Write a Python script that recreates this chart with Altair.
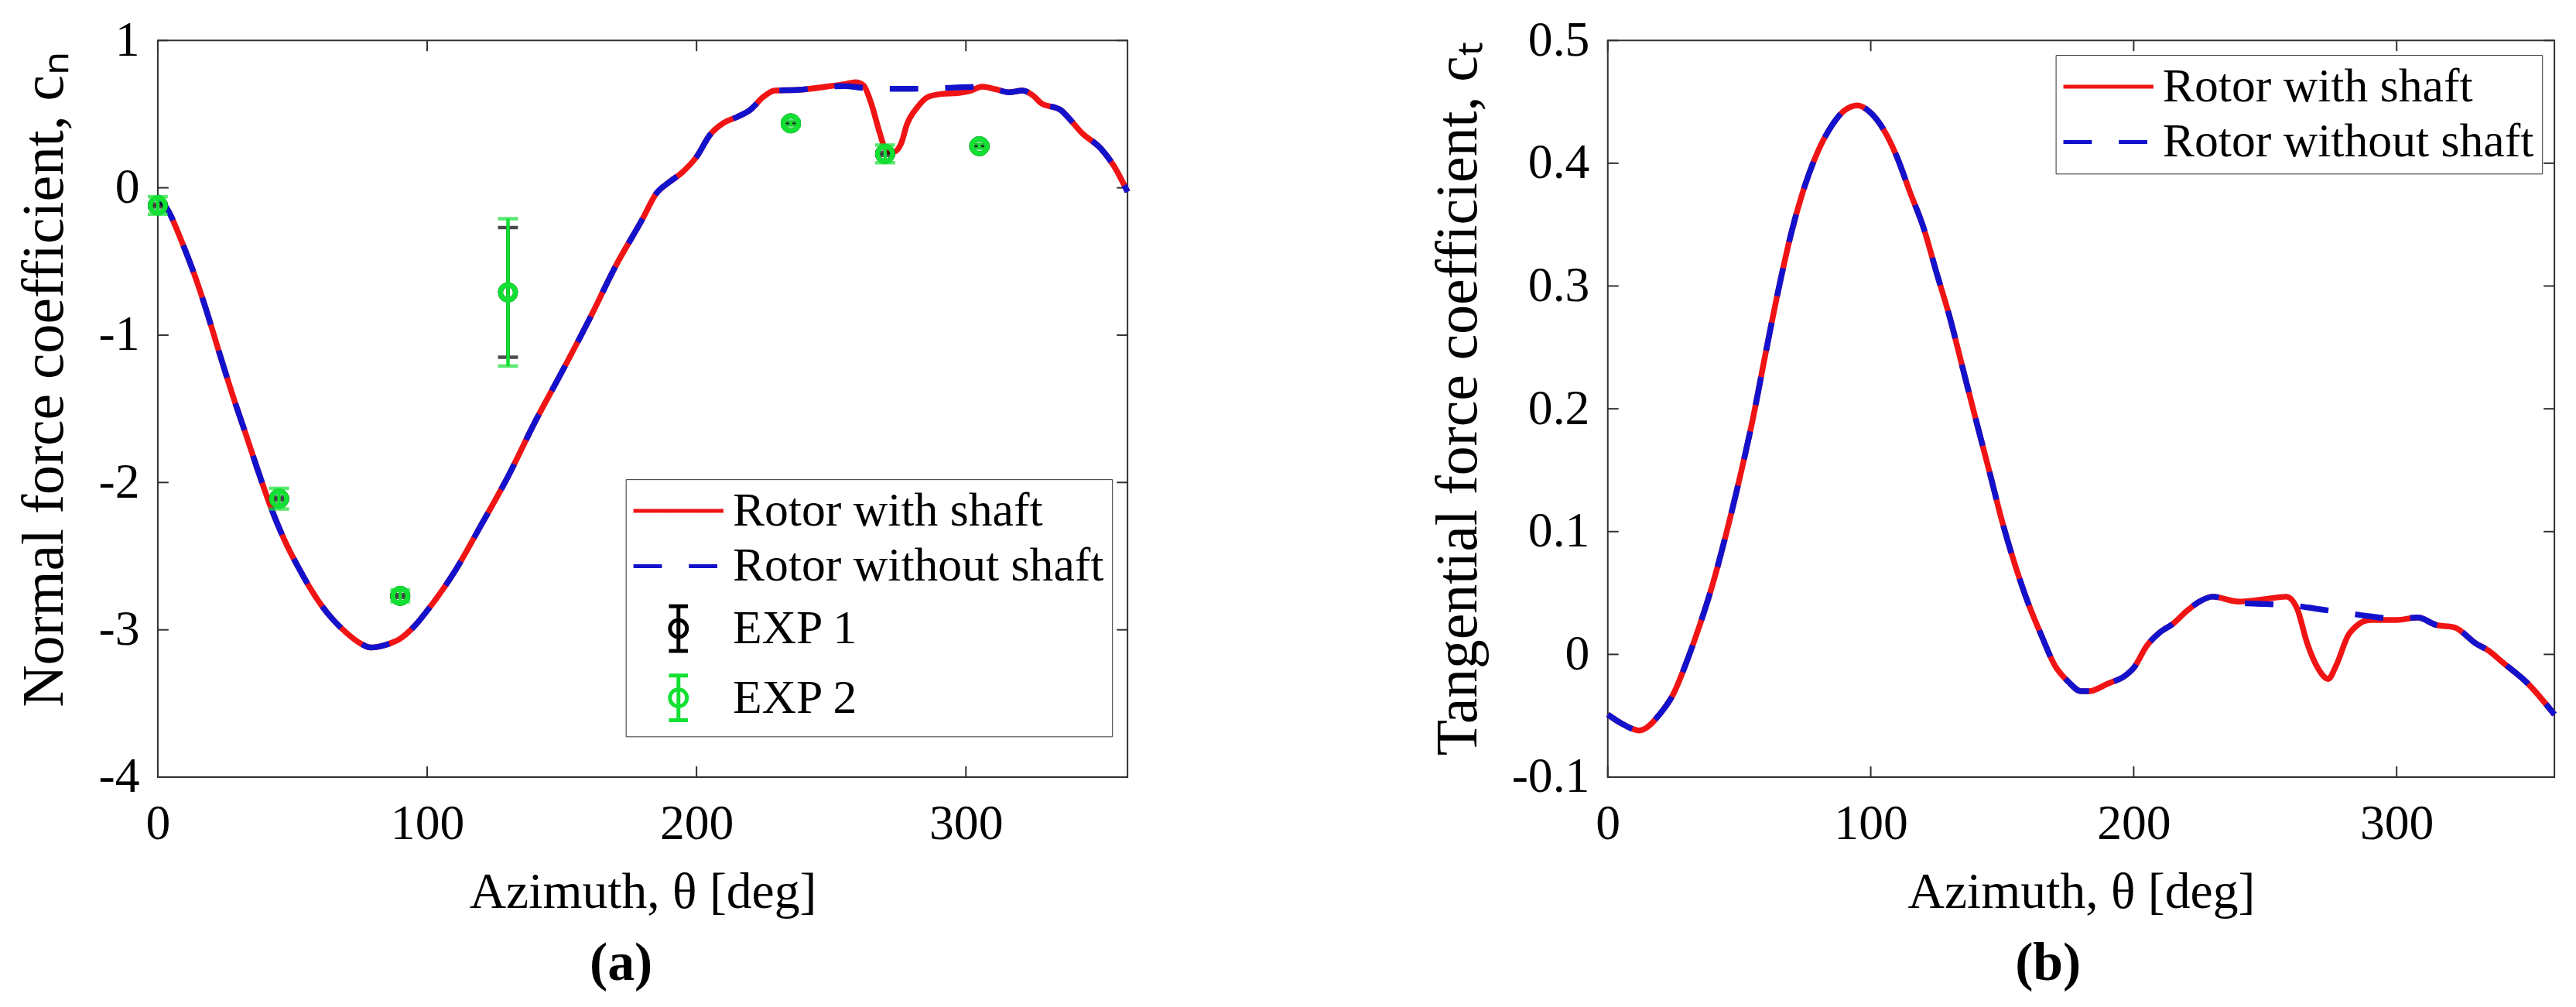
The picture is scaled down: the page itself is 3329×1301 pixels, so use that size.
import altair as alt
import pandas as pd

# ---------------- data ----------------
theta_cn = [0, 4, 9, 14, 18, 23, 28, 33, 37, 42,
            47, 52, 56, 61, 65, 70, 75, 79, 85, 90,
            95, 100, 110, 120, 130, 140, 150, 160, 170, 180,
            185, 190, 195, 200, 205, 210, 215, 220, 225, 229,
            238, 248, 255, 259, 262, 265, 268, 270, 273, 276,
            278, 282, 286, 291, 297, 302, 306, 311, 316, 321,
            325, 328, 335, 338, 343, 350, 355, 360]
cn_shaft = [-0.06, -0.16, -0.37, -0.61, -0.83, -1.13, -1.42, -1.69, -1.91, -2.17,
            -2.39, -2.57, -2.70, -2.84, -2.93, -3.02, -3.09, -3.12, -3.10, -3.06,
            -2.98, -2.87, -2.61, -2.29, -1.96, -1.59, -1.25, -0.90, -0.53, -0.21,
            -0.04, 0.04, 0.11, 0.21, 0.36, 0.44, 0.48, 0.53, 0.62, 0.66,
            0.665, 0.686, 0.704, 0.717, 0.695, 0.564, 0.373, 0.268, 0.242, 0.303,
            0.425, 0.547, 0.617, 0.637, 0.643, 0.66, 0.686, 0.669, 0.648, 0.66,
            0.625, 0.573, 0.53, 0.477, 0.373, 0.268, 0.146, -0.028]
theta_gap_cn = [255, 262, 270, 280, 290, 297, 302]
cn_gap_noshaft = [0.69, 0.678, 0.672, 0.672, 0.676, 0.681, 0.684]
theta_cn_ns = theta_cn[:42] + theta_gap_cn + theta_cn[56:]
cn_noshaft = cn_shaft[:42] + cn_gap_noshaft + cn_shaft[56:]

exp_theta = [0, 45, 90, 130, 235, 270, 305]
exp1_val = [-0.12, -2.11, -2.77, -0.71, 0.437, 0.23, 0.282]
exp1_lo = [-0.13, -2.12, -2.78, -1.15, 0.43, 0.22, 0.275]
exp1_hi = [-0.11, -2.10, -2.76, -0.27, 0.445, 0.24, 0.29]
exp2_val = [-0.12, -2.11, -2.77, -0.71, 0.437, 0.23, 0.282]
exp2_lo = [-0.18, -2.18, -2.81, -1.21, 0.42, 0.17, 0.265]
exp2_hi = [-0.06, -2.04, -2.73, -0.21, 0.455, 0.29, 0.30]

theta_ct = [0, 5, 12, 20, 25, 30, 35, 40, 45, 50,
            55, 60, 65, 70, 75, 80, 85, 90, 95, 100,
            105, 110, 115, 120, 125, 130, 135, 140, 145, 150,
            155, 160, 165, 170, 175, 180, 183, 190, 197, 200,
            205, 210, 215, 220, 225, 230, 240, 250, 258, 262,
            266, 270, 274, 277, 282, 290, 300, 308, 315, 322,
            330, 335, 340, 350, 360]
ct_shaft = [-0.049, -0.056, -0.062, -0.048, -0.032, -0.006, 0.024, 0.058, 0.098, 0.142,
            0.19, 0.245, 0.298, 0.345, 0.382, 0.41, 0.43, 0.443, 0.447, 0.441,
            0.427, 0.405, 0.376, 0.348, 0.311, 0.275, 0.233, 0.191, 0.15, 0.108,
            0.072, 0.041, 0.015, -0.009, -0.022, -0.03, -0.03, -0.024, -0.017, -0.011,
            0.007, 0.018, 0.025, 0.035, 0.043, 0.047, 0.043, 0.045, 0.047, 0.038,
            0.009, -0.011, -0.020, -0.009, 0.017, 0.028, 0.028, 0.03, 0.024, 0.022,
            0.009, 0.003, -0.006, -0.024, -0.049]
theta_gap_ct = [230, 240, 250, 260, 270, 280, 290, 300]
ct_gap_noshaft = [0.047, 0.042, 0.041, 0.040, 0.037, 0.034, 0.031, 0.029]
theta_ct_ns = theta_ct[:45] + theta_gap_ct + theta_ct[57:]
ct_noshaft = ct_shaft[:45] + ct_gap_noshaft + ct_shaft[57:]

x_ticks = [0, 100, 200, 300]
y_ticks_cn = [-4, -3, -2, -1, 0, 1]
y_ticks_ct = [-0.1, 0, 0.1, 0.2, 0.3, 0.4, 0.5]

names_a = ["Rotor with shaft", "Rotor without shaft", "EXP 1", "EXP 2"]
names_b = ["Rotor with shaft", "Rotor without shaft"]

# ---------------- style ----------------
FONT = "Liberation Serif"
RED = "#f01414"
BLUE = "#1212cc"
GREEN = "#12e032"
AXC = "#303030"
W1, W2, H = 1260, 1230, 957
TK = 14
LW = 7.5
DASH = [37, 35]
YT_SIZE = 76

LINE_PATH = "M-1.325,0H3.675"
EXP_PATH = ("M1.175,-1.24V1.24M0.645,-1.24H1.705M0.645,1.24H1.705"
            "M0.705,0A0.47,0.47,0,1,0,1.645,0A0.47,0.47,0,1,0,0.705,0")

X_SCALE = alt.Scale(domain=[0, 360], nice=False, zero=False)


def xenc(field):
    return alt.X(f"{field}:Q", scale=X_SCALE,
                 axis=alt.Axis(values=x_ticks, title="Azimuth, θ [deg]",
                               labelPadding=29, titlePadding=24))


def yenc_a(field):
    return alt.Y(f"{field}:Q", scale=alt.Scale(domain=[-4, 1], nice=False, zero=False),
                 axis=alt.Axis(values=y_ticks_cn, title="Normal force coefficient,   cₙ",
                               labelExpr="datum.value < 0 ? '-' + format(-datum.value, 'd') : format(datum.value, 'd')",
                               labelPadding=24, titlePadding=31, titleFontSize=YT_SIZE, titleY=440))


def yenc_b(field):
    return alt.Y(f"{field}:Q", scale=alt.Scale(domain=[-0.1, 0.5], nice=False, zero=False),
                 axis=alt.Axis(values=y_ticks_ct, title="Tangential force coefficient,   cₜ",
                               labelExpr="abs(datum.value) < 1e-9 ? '0' : (datum.value < 0 ? '-' : '') + format(abs(datum.value), '.1f')",
                               labelPadding=24, titlePadding=30, titleFontSize=YT_SIZE, titleY=465))


def tick_layers(yenc, yvals, width):
    dx = pd.DataFrame({"t": x_ticks})
    dy = pd.DataFrame({"v": yvals})
    rule = dict(color=AXC, strokeWidth=2)
    return [
        alt.Chart(dx).mark_rule(**rule).encode(x=xenc("t"), y=alt.value(H), y2=alt.value(H - TK)),
        alt.Chart(dx).mark_rule(**rule).encode(x=xenc("t"), y=alt.value(0), y2=alt.value(TK)),
        alt.Chart(dy).mark_rule(**rule).encode(y=yenc("v"), x=alt.value(0), x2=alt.value(TK)),
        alt.Chart(dy).mark_rule(**rule).encode(y=yenc("v"), x=alt.value(width), x2=alt.value(width - TK)),
    ]


def legend_layer(names, colors, shapes, dashes, yenc, lx, ly):
    df = pd.DataFrame({"series": names, "xl": [-1000] * len(names), "yl": [0] * len(names)})
    leg = alt.Legend(title=None, orient="none", legendX=lx, legendY=ly, direction="vertical",
                     symbolSize=2190, symbolStrokeWidth=5, symbolOffset=0,
                     labelFont=FONT, labelFontSize=62, labelColor="black", labelOffset=67,
                     labelLimit=2000, strokeColor=AXC, fillColor="white",
                     padding=10, rowPadding=10, symbolFillColor="transparent")
    return alt.Chart(df).mark_point(filled=False, clip=True, strokeWidth=5, opacity=1).encode(
        x=xenc("xl"), y=yenc("yl"),
        color=alt.Color("series:N", scale=alt.Scale(domain=names, range=colors), legend=leg),
        shape=alt.Shape("series:N", scale=alt.Scale(domain=names, range=shapes), legend=leg),
        strokeDash=alt.StrokeDash("series:N", scale=alt.Scale(domain=names, range=dashes), legend=leg),
    )


# ---------------- panel (a) ----------------
df_cn_s = pd.DataFrame({"theta": theta_cn, "v": cn_shaft})
df_cn_n = pd.DataFrame({"theta": theta_cn_ns, "v": cn_noshaft})
df_exp = pd.DataFrame({"theta": exp_theta,
                       "v1": exp1_val, "lo1": exp1_lo, "hi1": exp1_hi,
                       "v2": exp2_val, "lo2": exp2_lo, "hi2": exp2_hi})

red_a = alt.Chart(df_cn_s).mark_line(color=RED, strokeWidth=LW, interpolate="monotone").encode(
    x=xenc("theta"), y=yenc_a("v"))
blue_a = alt.Chart(df_cn_n).mark_line(color=BLUE, strokeWidth=LW, strokeDash=DASH, interpolate="monotone").encode(
    x=xenc("theta"), y=yenc_a("v"))


def exp_layers(k, col):
    base = alt.Chart(df_exp)
    return [
        base.mark_rule(color=col, strokeWidth=4.5).encode(x=xenc("theta"), y=yenc_a(f"lo{k}"), y2=f"hi{k}"),
        base.mark_tick(color=col, orient="horizontal", size=26, thickness=4.5).encode(x=xenc("theta"), y=yenc_a(f"lo{k}")),
        base.mark_tick(color=col, orient="horizontal", size=26, thickness=4.5).encode(x=xenc("theta"), y=yenc_a(f"hi{k}")),
        base.mark_point(shape="circle", filled=False, color=col, size=380, strokeWidth=6.5, opacity=1).encode(
            x=xenc("theta"), y=yenc_a(f"v{k}")),
    ]


leg_a = legend_layer(names_a, [RED, BLUE, "black", GREEN],
                     [LINE_PATH, LINE_PATH, EXP_PATH, EXP_PATH],
                     [[1, 0], DASH, [1, 0], [1, 0]], yenc_a, 608, 570)

panel_a = alt.layer(*tick_layers(yenc_a, y_ticks_cn, W1), red_a, blue_a,
                    *exp_layers(1, "black"), *exp_layers(2, GREEN), leg_a).properties(
    width=W1, height=H,
    title=alt.TitleParams("(a)", orient="bottom", font=FONT, fontSize=70, fontWeight="bold",
                          color="black", frame="group", anchor="middle", dx=-28, offset=26))

# ---------------- panel (b) ----------------
df_ct_s = pd.DataFrame({"theta": theta_ct, "v": ct_shaft})
df_ct_n = pd.DataFrame({"theta": theta_ct_ns, "v": ct_noshaft})
red_b = alt.Chart(df_ct_s).mark_line(color=RED, strokeWidth=LW, interpolate="monotone").encode(
    x=xenc("theta"), y=yenc_b("v"))
blue_b = alt.Chart(df_ct_n).mark_line(color=BLUE, strokeWidth=LW, strokeDash=DASH, interpolate="monotone").encode(
    x=xenc("theta"), y=yenc_b("v"))
leg_b = legend_layer(names_b, [RED, BLUE], [LINE_PATH, LINE_PATH], [[1, 0], DASH], yenc_b, 582, 19)

panel_b = alt.layer(*tick_layers(yenc_b, y_ticks_ct, W2), red_b, blue_b, leg_b).properties(
    width=W2, height=H,
    title=alt.TitleParams("(b)", orient="bottom", font=FONT, fontSize=70, fontWeight="bold",
                          color="black", frame="group", anchor="middle", dx=-43, offset=26))

chart = alt.hconcat(panel_a, panel_b, spacing=374).resolve_scale(
    x="independent", y="independent", color="independent",
    shape="independent", strokeDash="independent").properties(
    padding={"left": 10, "top": 8, "right": 4, "bottom": 4}, background="white"
).configure_view(stroke=AXC, strokeWidth=2).configure_axis(
    labelFont=FONT, labelFontSize=64, labelColor="black",
    titleFont=FONT, titleFontSize=66, titleColor="black", titleFontWeight="normal",
    grid=False, ticks=False, tickSize=0, domain=False, labelFlush=False, labelOverlap=False)

chart.save("out.html", embed_options={"renderer": "svg", "actions": False})
